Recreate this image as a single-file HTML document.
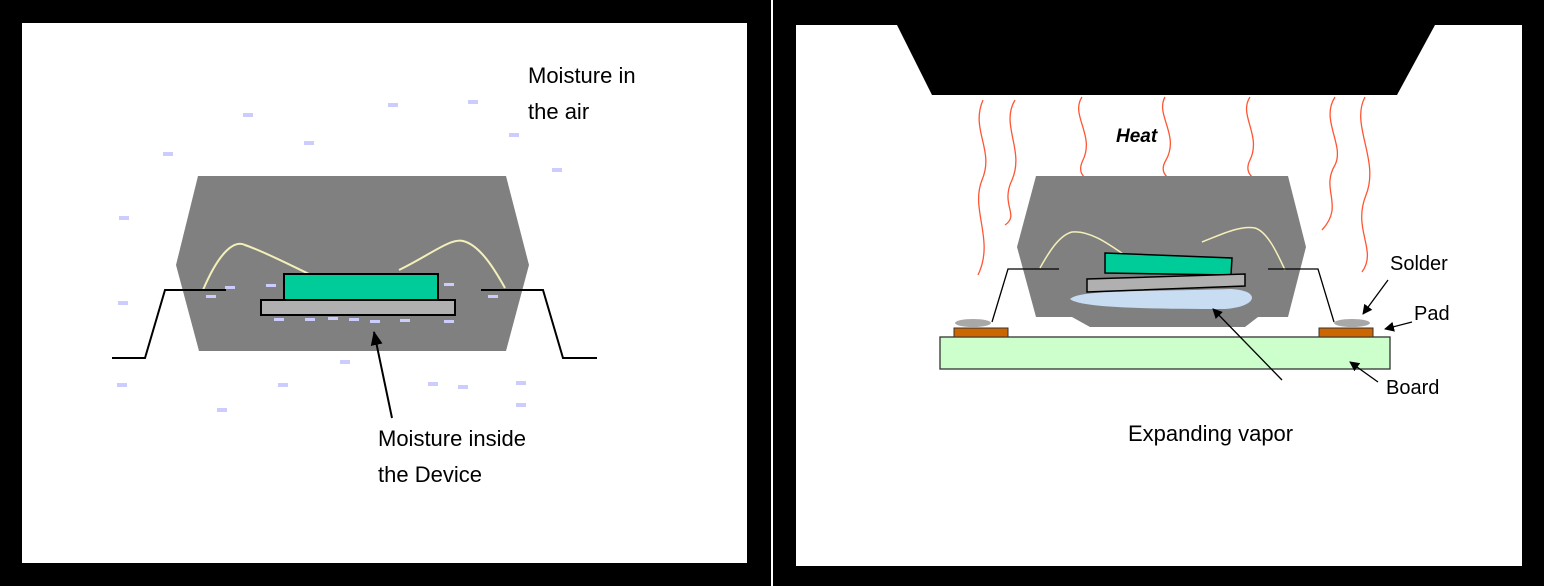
<!DOCTYPE html>
<html><head><style>
html,body{margin:0;padding:0;background:#000;width:1544px;height:586px;overflow:hidden}
svg{display:block}
text{font-family:"Liberation Sans",Arial,sans-serif}
</style></head><body>
<svg width="1544" height="586" viewBox="0 0 1544 586" xmlns="http://www.w3.org/2000/svg">
<defs>
<marker id="ah" markerWidth="10" markerHeight="10" refX="9" refY="5" orient="auto" markerUnits="userSpaceOnUse"><path d="M0,0 L10,5 L0,10 z" fill="#000"/></marker>
<marker id="ah2" markerWidth="14" markerHeight="12" refX="13" refY="6" orient="auto" markerUnits="userSpaceOnUse"><path d="M0,0 L14,6 L0,12 z" fill="#000"/></marker>
</defs>
<rect x="0" y="0" width="1544" height="586" fill="#000"/>
<!-- left panel -->
<rect x="22" y="23" width="725" height="540" fill="#fff"/>
<rect x="771" y="0" width="2" height="586" fill="#fff"/>
<!-- right panel -->
<rect x="796" y="25" width="726" height="541" fill="#fff"/>

<!-- LEFT -->
<polygon points="198,176 506,176 529,265 506,351 199,351 176,265" fill="#808080"/>
<path d="M203,290 C220,250 235,240 245,245 C265,252 290,265 309,274" fill="none" stroke="#f4f0b8" stroke-width="2"/>
<path d="M399,270 C430,255 450,238 463,241 C480,245 495,270 505,288" fill="none" stroke="#f4f0b8" stroke-width="2"/>
<rect x="284" y="274" width="154" height="26" fill="#00cc99" stroke="#000" stroke-width="2"/>
<rect x="261" y="300" width="194" height="15" fill="#b0b0b0" stroke="#000" stroke-width="2"/>
<polyline points="226,290 165,290 145,358 112,358" fill="none" stroke="#000" stroke-width="2"/>
<polyline points="481,290 543,290 563,358 597,358" fill="none" stroke="#000" stroke-width="2"/>
<g fill="#ccccff">
<rect x="243" y="113" width="10" height="4"/><rect x="388" y="103" width="10" height="4"/><rect x="468" y="100" width="10" height="4"/>
<rect x="163" y="152" width="10" height="4"/><rect x="304" y="141" width="10" height="4"/><rect x="509" y="133" width="10" height="4"/>
<rect x="552" y="168" width="10" height="4"/><rect x="119" y="216" width="10" height="4"/><rect x="118" y="301" width="10" height="4"/>
<rect x="117" y="383" width="10" height="4"/><rect x="278" y="383" width="10" height="4"/><rect x="340" y="360" width="10" height="4"/>
<rect x="217" y="408" width="10" height="4"/><rect x="428" y="382" width="10" height="4"/><rect x="458" y="385" width="10" height="4"/>
<rect x="516" y="381" width="10" height="4"/><rect x="516" y="403" width="10" height="4"/>
<rect x="206" y="295" width="10" height="3"/><rect x="225" y="286" width="10" height="3"/><rect x="266" y="284" width="10" height="3"/>
<rect x="444" y="283" width="10" height="3"/><rect x="488" y="295" width="10" height="3"/>
<rect x="274" y="318" width="10" height="3"/><rect x="305" y="318" width="10" height="3"/><rect x="328" y="317" width="10" height="3"/>
<rect x="349" y="318" width="10" height="3"/><rect x="370" y="320" width="10" height="3"/><rect x="400" y="319" width="10" height="3"/><rect x="444" y="320" width="10" height="3"/>
</g>
<line x1="392" y1="418" x2="374" y2="332" stroke="#000" stroke-width="2" marker-end="url(#ah2)"/>
<text x="528" y="83" font-size="22">Moisture in</text>
<text x="528" y="119" font-size="22">the air</text>
<text x="378" y="446" font-size="22">Moisture inside</text>
<text x="378" y="482" font-size="22">the Device</text>

<!-- RIGHT -->
<polygon points="897,25 1435,25 1397,95 932,95" fill="#000"/>
<g fill="none" stroke="#ff5533" stroke-width="1.3">
<path d="M983,100 C970,130 995,150 982,180 C970,210 995,240 978,275"/>
<path d="M1015,100 C1000,125 1025,150 1012,180 C1000,205 1020,215 1005,225"/>
<path d="M1082,97 C1070,115 1095,135 1083,160 C1078,170 1082,175 1085,178"/>
<path d="M1165,97 C1155,115 1180,135 1166,160 C1160,170 1165,175 1168,178"/>
<path d="M1250,97 C1238,115 1262,135 1250,160 C1245,170 1250,175 1253,178"/>
<path d="M1335,97 C1320,120 1345,145 1335,165 C1320,190 1345,205 1322,230"/>
<path d="M1365,97 C1350,125 1380,160 1366,195 C1352,230 1378,250 1362,272"/>
</g>
<text x="1116" y="142" font-size="19" font-weight="bold" font-style="italic">Heat</text>
<path d="M1036,176 L1288,176 L1306,247 L1288,317 L1258,317 L1245,327 L1090,327 L1072,317 L1036,317 L1017,247 Z" fill="#808080"/>
<path d="M1040,268 C1050,250 1060,235 1072,232 C1090,230 1110,245 1126,256" fill="none" stroke="#f4f0b8" stroke-width="1.5"/>
<path d="M1202,242 C1220,235 1240,225 1255,228 C1268,232 1278,255 1285,270" fill="none" stroke="#f4f0b8" stroke-width="1.5"/>
<polygon points="1105,253 1232,258 1231,275 1105,273" fill="#00cc99" stroke="#000" stroke-width="1.5"/>
<polygon points="1087,279 1245,274 1245,286 1087,292" fill="#b0b0b0" stroke="#000" stroke-width="1.5"/>
<path d="M1070,299 C1080,290 1130,292 1230,289 C1262,290 1258,307 1225,309 C1150,309 1080,308 1070,299 Z" fill="#c8dcf2"/>
<polyline points="1059,269 1008,269 992,322" fill="none" stroke="#000" stroke-width="1.3"/>
<polyline points="1268,269 1318,269 1334,322" fill="none" stroke="#000" stroke-width="1.3"/>
<rect x="940" y="337" width="450" height="32" fill="#ccffcc" stroke="#333" stroke-width="1.3"/>
<rect x="954" y="328" width="54" height="9" fill="#cc6600" stroke="#333" stroke-width="1"/>
<rect x="1319" y="328" width="54" height="9" fill="#cc6600" stroke="#333" stroke-width="1"/>
<ellipse cx="973" cy="323" rx="18" ry="4" fill="#a8a8a8"/>
<ellipse cx="1352" cy="323" rx="18" ry="4" fill="#a8a8a8"/>
<line x1="1388" y1="280" x2="1363" y2="314" stroke="#000" stroke-width="1.3" marker-end="url(#ah)"/>
<line x1="1412" y1="322" x2="1385" y2="329" stroke="#000" stroke-width="1.3" marker-end="url(#ah)"/>
<line x1="1378" y1="382" x2="1350" y2="362" stroke="#000" stroke-width="1.3" marker-end="url(#ah)"/>
<line x1="1282" y1="380" x2="1213" y2="309" stroke="#000" stroke-width="1.3" marker-end="url(#ah)"/>
<text x="1390" y="270" font-size="20">Solder</text>
<text x="1414" y="320" font-size="20">Pad</text>
<text x="1386" y="394" font-size="20">Board</text>
<text x="1128" y="441" font-size="22">Expanding vapor</text>
</svg>
</body></html>
